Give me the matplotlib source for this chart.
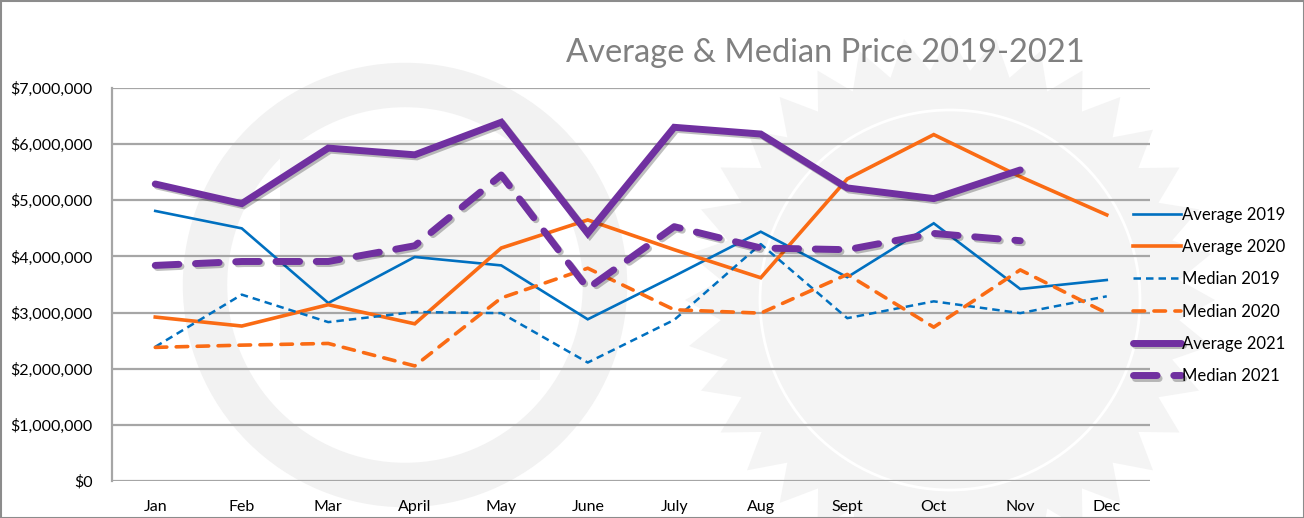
import matplotlib
matplotlib.use("Agg")
import matplotlib.pyplot as plt
from matplotlib.ticker import FuncFormatter
import matplotlib.patheffects as pe
from matplotlib.patches import Circle, Rectangle, Polygon
import numpy as np

months = ["Jan", "Feb", "Mar", "April", "May", "June", "July", "Aug", "Sept", "Oct", "Nov", "Dec"]

avg_2019 = [4.81, 4.50, 3.17, 3.99, 3.84, 2.88, 3.65, 4.44, 3.63, 4.59, 3.42, 3.58]
avg_2020 = [2.92, 2.76, 3.14, 2.80, 4.15, 4.65, 4.12, 3.62, 5.38, 6.17, 5.42, 4.74]
med_2019 = [2.39, 3.32, 2.83, 3.01, 2.99, 2.11, 2.87, 4.22, 2.90, 3.20, 2.99, 3.29]
med_2020 = [2.38, 2.42, 2.45, 2.05, 3.26, 3.79, 3.05, 2.99, 3.68, 2.74, 3.76, 2.99]
avg_2021 = [5.29, 4.94, 5.93, 5.81, 6.39, 4.41, 6.30, 6.18, 5.22, 5.03, 5.54]
med_2021 = [3.84, 3.91, 3.91, 4.19, 5.45, 3.43, 4.53, 4.15, 4.12, 4.41, 4.28]

BLUE = "#0070C0"
ORANGE = "#FA6B14"
PURPLE = "#7030A0"

W, H = 1304, 518
fig = plt.figure(figsize=(W / 100, H / 100), dpi=100)
fig.patch.set_facecolor("white")

# background watermark (faint)
bg = fig.add_axes([0, 0, 1, 1], zorder=0)
bg.set_xlim(0, W)
bg.set_ylim(H, 0)
bg.axis("off")
bg.add_patch(Circle((405, 285), 200, fill=False, lw=32, ec="#f2f2f2"))
bg.add_patch(Rectangle((280, 140), 260, 240, fc="#f5f5f5", ec="none"))
# sun-like emblem on the right
n = 36
ang = np.linspace(0, 2 * np.pi, 2 * n, endpoint=False)
rad = np.where(np.arange(2 * n) % 2 == 0, 265, 230)
pts = np.c_[950 + rad * np.cos(ang), 300 + rad * np.sin(ang)]
bg.add_patch(Polygon(pts, closed=True, fc="#f4f4f4", ec="none"))
bg.add_patch(Circle((950, 300), 190, fill=False, lw=2, ec="#ffffff"))
bg.add_patch(Rectangle((0.5, 0.5), W - 1, H - 1, fill=False, lw=1.5, ec="#8c8c8c"))

x0, x1 = 112, 1150
y0, y1 = 481, 88
ax = fig.add_axes([x0 / W, 1 - y0 / H, (x1 - x0) / W, (y0 - y1) / H], zorder=1)
ax.patch.set_alpha(0)

xs = list(range(len(months)))
M = 1e6

def scale(v):
    return [a * M for a in v]

shadow = [pe.SimpleLineShadow(offset=(1.5, -1.5), alpha=0.25), pe.Normal()]

l1, = ax.plot(xs, scale(avg_2019), color=BLUE, lw=1.9, solid_joinstyle="miter", label="Average 2019", zorder=3)
l2, = ax.plot(xs, scale(avg_2020), color=ORANGE, lw=2.6, solid_joinstyle="miter", label="Average 2020", zorder=3)
l3, = ax.plot(xs, scale(med_2019), color=BLUE, lw=1.8, dashes=(3.0, 2.0), label="Median 2019", zorder=3)
l4, = ax.plot(xs, scale(med_2020), color=ORANGE, lw=2.6, dashes=(3.2, 2.6), dash_capstyle="round", label="Median 2020", zorder=3)
l5, = ax.plot(xs[:len(avg_2021)], scale(avg_2021), color=PURPLE, lw=5.0, solid_capstyle="round", solid_joinstyle="miter",
              label="Average 2021", zorder=4, path_effects=shadow)
l6, = ax.plot(xs[:len(med_2021)], scale(med_2021), color=PURPLE, lw=5.0, dashes=(3.4, 2.4), dash_capstyle="round",
              label="Median 2021", zorder=4, path_effects=shadow)

ax.set_xlim(-0.5, 11.5)
ax.set_ylim(0, 7 * M)
ax.set_yticks([i * M for i in range(8)])
ax.yaxis.set_major_formatter(FuncFormatter(lambda v, p: "${:,.0f}".format(v)))
ax.set_xticks(xs)
ax.set_xticklabels(months)
ax.grid(axis="y", color="#a6a6a6", lw=1.6)
ax.set_axisbelow(True)
for s in ["top", "right", "bottom"]:
    ax.spines[s].set_visible(False)
ax.spines["left"].set_color("#a6a6a6")
ax.spines["left"].set_linewidth(1.6)
ax.tick_params(axis="both", length=0, labelsize=11.5, colors="#000000")
ax.tick_params(axis="x", pad=14)
ax.tick_params(axis="y", pad=14)
for t in ax.get_xticklabels() + ax.get_yticklabels():
    t.set_fontfamily("Lato")

fig.text(825 / W, 1 - 53 / H, "Average & Median Price 2019-2021", ha="center", va="center",
         fontsize=23.5, color="#808080", fontfamily="Lato")

leg = fig.legend(handles=[l1, l2, l3, l4, l5, l6], loc="upper left", bbox_to_anchor=(1126 / W, 1 - 200 / H),
                 frameon=False, prop={"family": "Lato", "size": 12}, handlelength=2.9, handletextpad=0.05,
                 labelspacing=0.98, borderaxespad=0)

fig.savefig("out.png", dpi=100, facecolor="white")
